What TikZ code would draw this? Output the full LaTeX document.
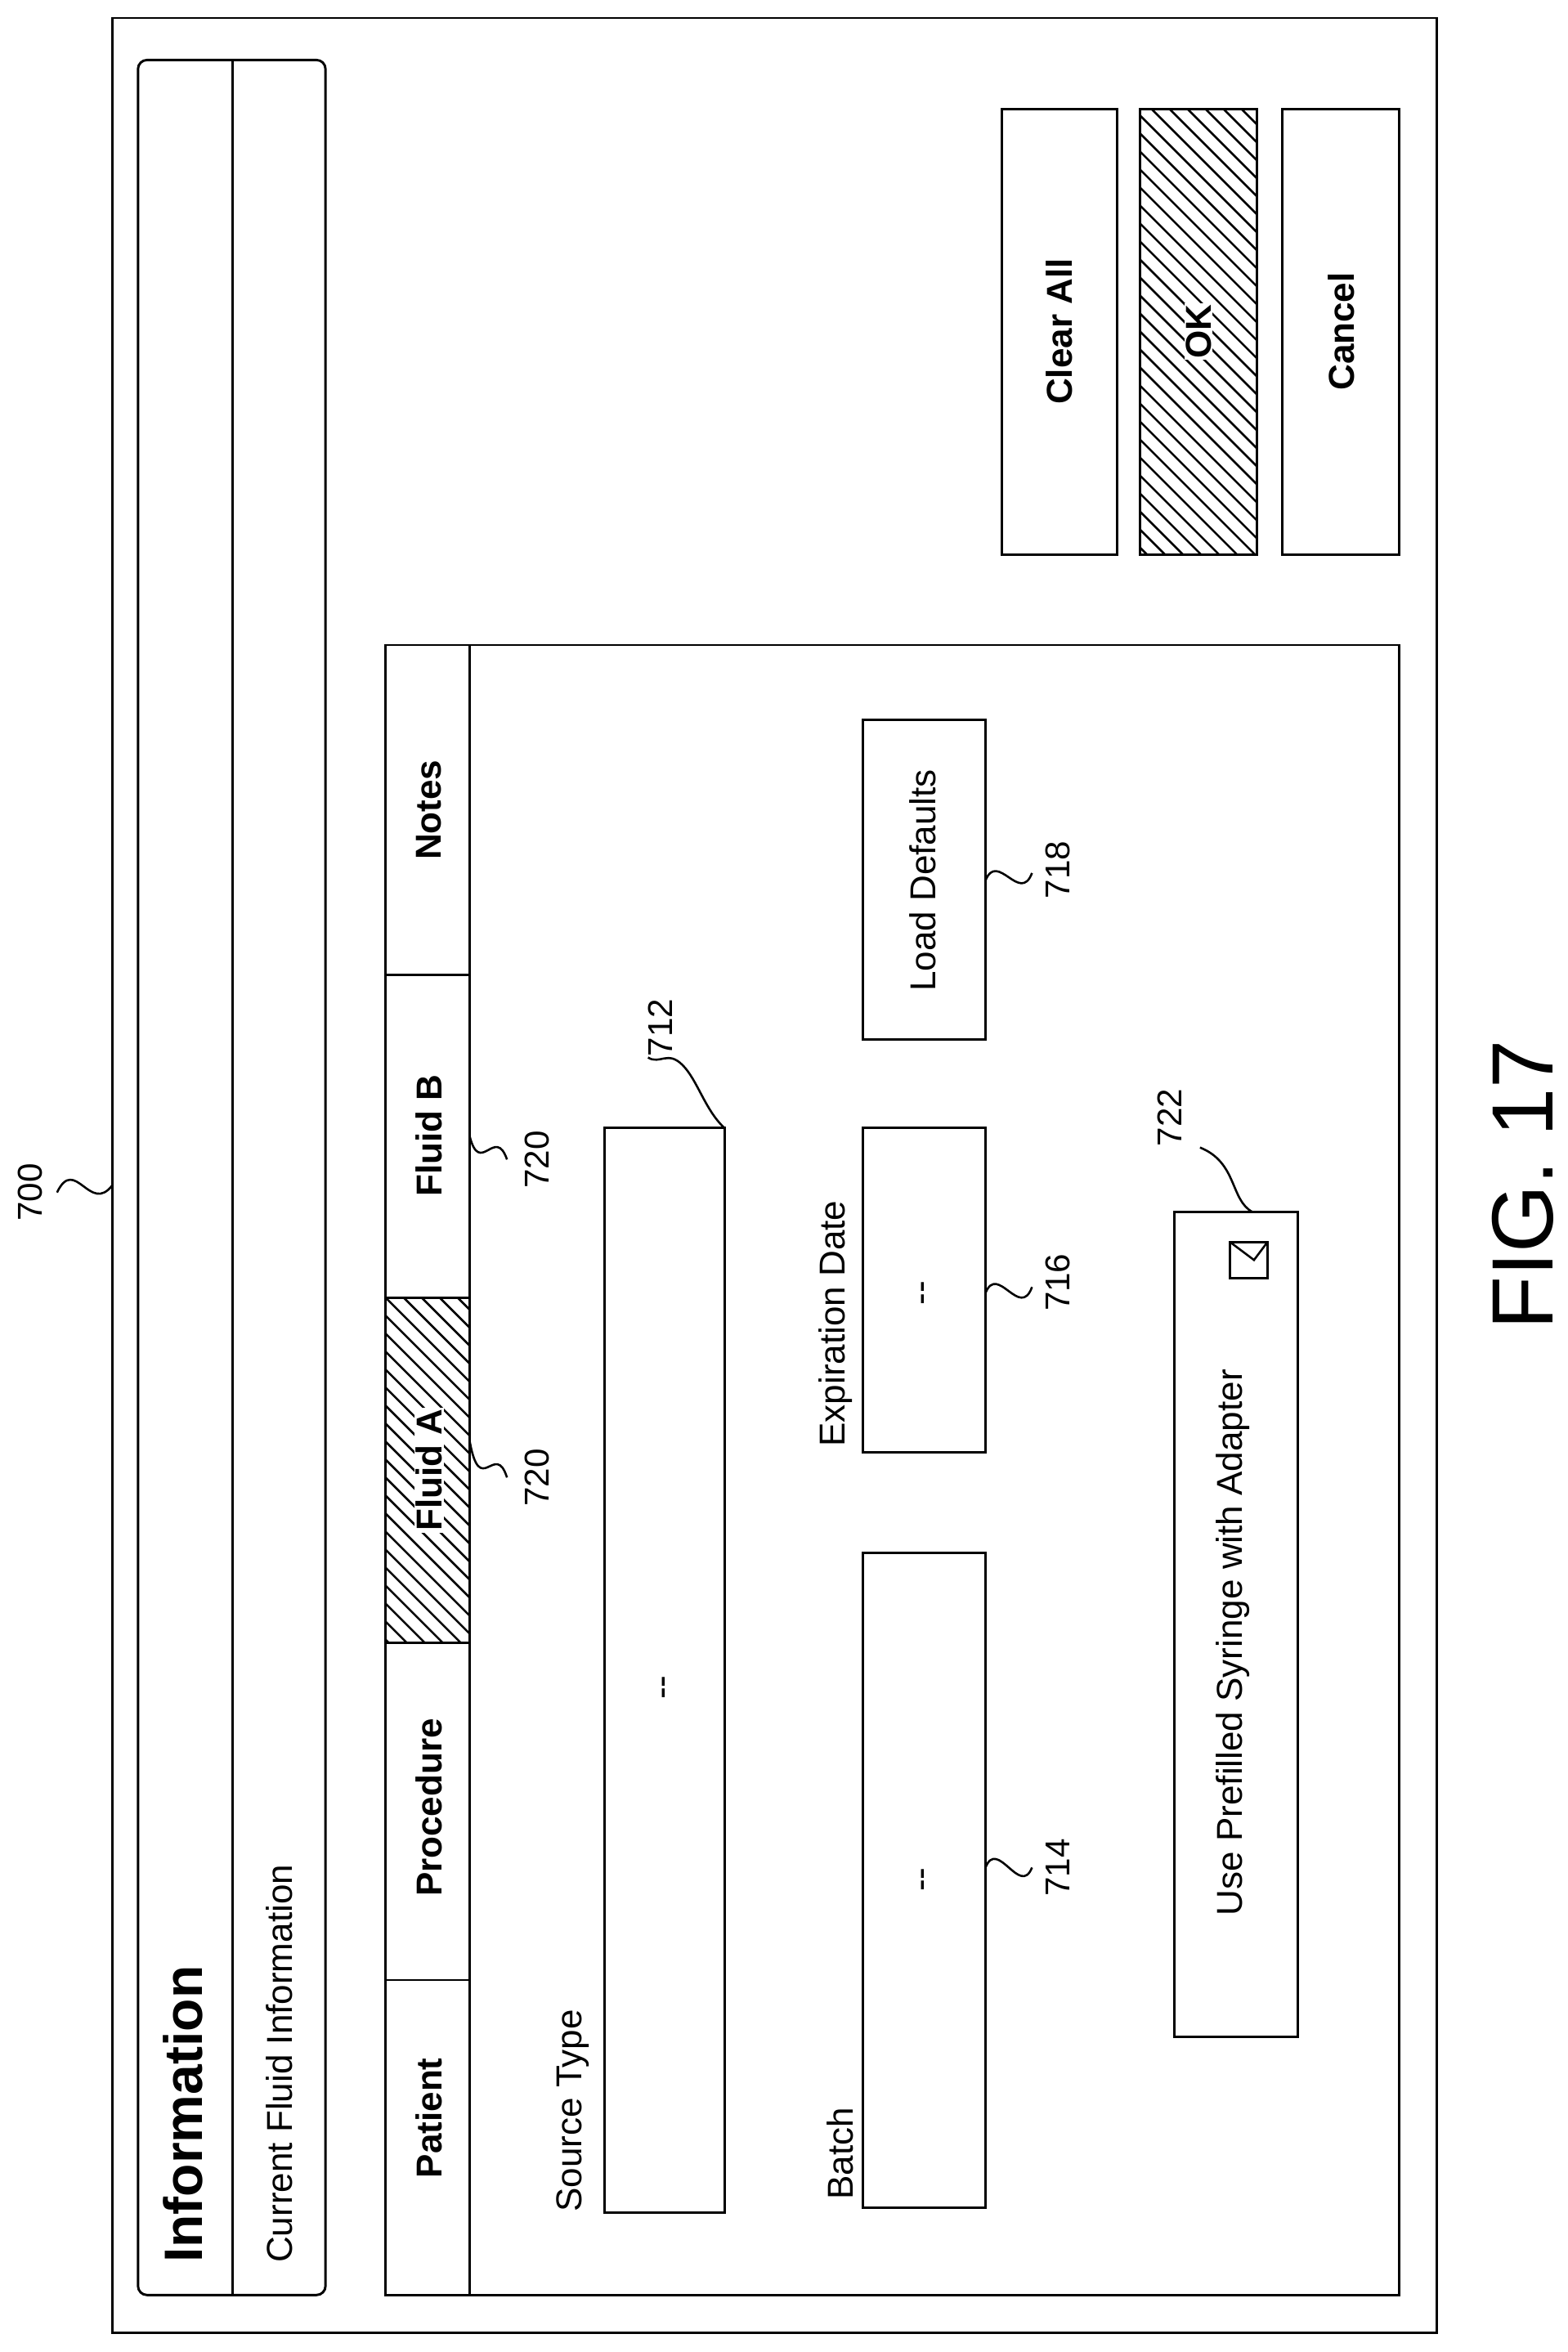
\documentclass[tikz,border=0pt]{standalone}
\usepackage{fontspec}
\setmainfont{Liberation Sans}
\begin{document}
\begin{tikzpicture}[x=1pt,y=1pt,
 box/.style={draw,line width=1.6pt},
 lbl/.style={rotate=90,font=\fontsize{24}{26}\selectfont},
 tab/.style={rotate=90,font=\fontsize{24}{26}\selectfont\bfseries},
 num/.style={rotate=90,font=\fontsize{23}{25}\selectfont}]
\useasboundingbox (0,0) rectangle (1045,-1568);
\tikzset{sq/.style={line width=1.4pt}}
% outer frame
\draw[box] (75,-12) rectangle (958,-1555);
\draw[box,rounded corners=6pt] (92,-40) rectangle (217,-1530);
\draw[box] (155,-40) -- (155,-1530);
\node[rotate=90,font=\fontsize{36}{38}\selectfont\bfseries,anchor=west] (info) at (122,-1512) {Information};
\node[lbl,anchor=west] (cfi) at (186,-1512) {Current Fluid Information};
% hatched areas
\begin{scope}
\clip (257,-865) rectangle (313,-1095);
\foreach \i in {-300,-288,...,300} \draw[line width=1.4pt] (257+\i,-865) -- ++(260,-260);
\end{scope}
\begin{scope}
\clip (760,-73) rectangle (838,-370);
\foreach \i in {-400,-388,...,120} \draw[line width=1.4pt] (760+\i,-73) -- ++(330,-330);
\end{scope}
% tabs
\draw[box] (257,-1320) rectangle (313,-1530);
\draw[box] (257,-1095) rectangle (313,-1320);
\draw[box] (257,-865) rectangle (313,-1095);
\draw[box] (257,-650) rectangle (313,-865);
\draw[box] (257,-430) rectangle (313,-650);
\node[tab] (tp) at (286,-1412) {Patient};
\node[tab] (tpr) at (286,-1205) {Procedure};
\node[tab,fill=white,inner sep=1pt] (tfa) at (286,-980) {Fluid A};
\node[tab] (tfb) at (286,-757) {Fluid B};
\node[tab] (tn) at (286,-540) {Notes};
% panel
\draw[box] (313,-430) rectangle (933,-1530);
\node[lbl,anchor=west] (st) at (382,-1478) {Source Type};
\draw[box] (403,-752) rectangle (483,-1475);
\node[lbl] (stv) at (445,-1125) {-{}-};
\node[lbl,anchor=west] (bt) at (560,-1470) {Batch};
\draw[box] (575,-1035) rectangle (657,-1472);
\node[lbl] (btv) at (618,-1253) {-{}-};
\node[lbl,anchor=west] (ex) at (557,-968) {Expiration Date};
\draw[box] (575,-752) rectangle (657,-968);
\node[lbl] (exv) at (618,-862) {-{}-};
\draw[box] (575,-480) rectangle (657,-693);
\node[lbl] (ld) at (615,-587) {Load Defaults};
\draw[box] (783,-808) rectangle (865,-1358);
\node[lbl] (up) at (822,-1095) {Use Prefilled Syringe with Adapter};
\draw[line width=1.4pt] (820,-828) rectangle (845,-852);
\draw[line width=1.4pt] (820,-828) -- (836,-840) -- (845,-828);
% buttons
\draw[box] (668,-73) rectangle (745,-370);
\node[tab] (ca) at (706,-221) {Clear All};
\draw[box] (760,-73) rectangle (838,-370);
\node[tab,fill=white,inner sep=1pt] (ok) at (799,-221) {OK};
\draw[box] (855,-73) rectangle (933,-370);
\node[tab] (cn) at (894,-221) {Cancel};
% reference numerals
\node[num] (n700) at (20,-795) {700};
\draw[sq] (38,-795) .. controls (50,-770) and (60,-810) .. (75,-790);
\node[num] (n712) at (440,-685) {712};
\draw[sq] (483,-752) .. controls (470,-740) and (465,-720) .. (455,-710) .. controls (445,-700) and (440,-710) .. (432,-705);
\node[num] (n714) at (705,-1245) {714};
\draw[sq] (657,-1245) .. controls (665,-1225) and (680,-1265) .. (688,-1245);
\node[num] (n716) at (705,-855) {716};
\draw[sq] (657,-862) .. controls (665,-842) and (680,-880) .. (688,-858);
\node[num] (n718) at (705,-580) {718};
\draw[sq] (657,-587) .. controls (665,-567) and (680,-603) .. (688,-582);
\node[num] (n722) at (780,-745) {722};
\draw[sq] (835,-808) .. controls (820,-800) and (825,-775) .. (800,-765);
\node[num] (n720a) at (358,-985) {720};
\draw[sq] (313,-960) .. controls (320,-1000) and (330,-960) .. (338,-985);
\node[num] (n720b) at (358,-773) {720};
\draw[sq] (313,-757) .. controls (320,-785) and (330,-750) .. (338,-773);
\node[rotate=90,font=\fontsize{58}{60}\selectfont] (fig) at (1015,-790) {FIG. 17};
\end{tikzpicture}
\end{document}
